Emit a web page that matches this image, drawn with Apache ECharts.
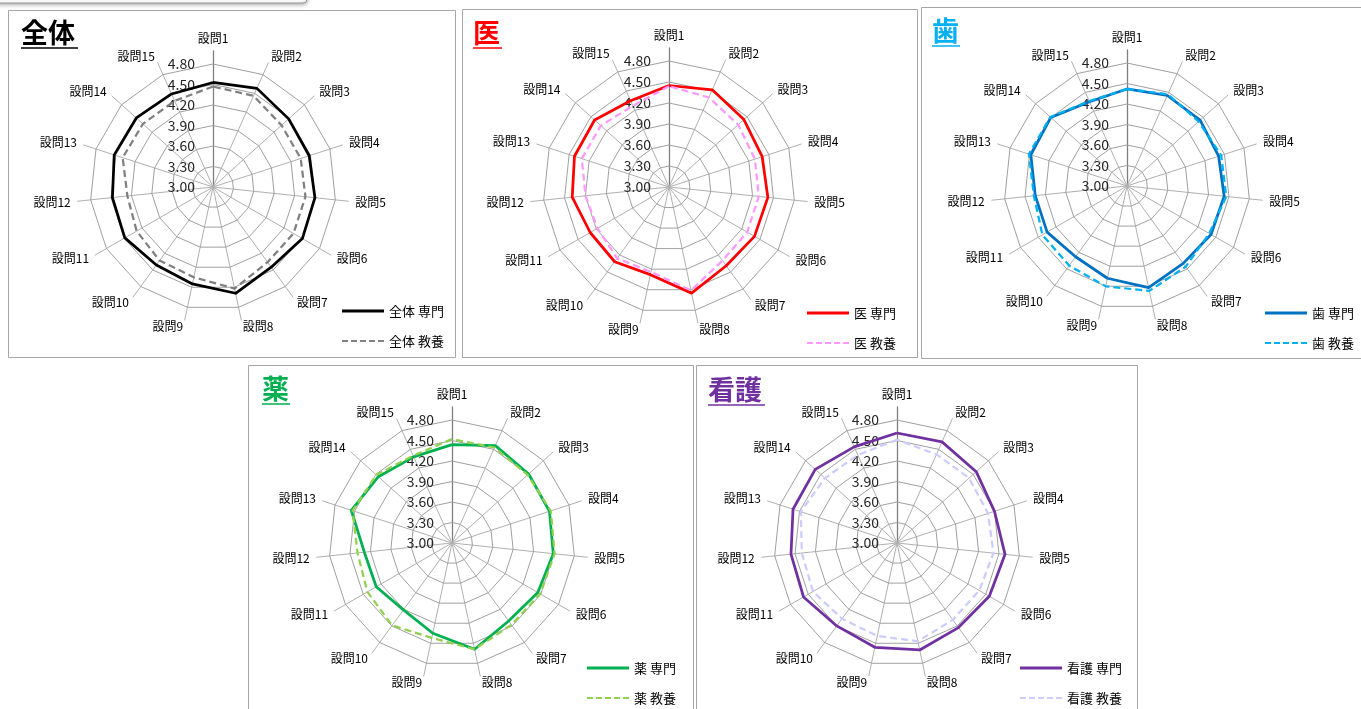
<!DOCTYPE html>
<html><head><meta charset="utf-8">
<script src="https://cdn.jsdelivr.net/npm/echarts@6/dist/echarts.min.js"></script>
<style>html,body{margin:0;padding:0;background:#fff;overflow:hidden}#c{width:1361px;height:709px}</style>
</head><body><div id="c"></div>
<script>
// ---------- DATA ----------
const questions = ['設問1','設問2','設問3','設問4','設問5','設問6','設問7','設問8','設問9','設問10','設問11','設問12','設問13','設問14','設問15'];
const axisMin = 3.0;
const axisMax = 4.8;
const axisSplits = 6; // 3.00, 3.30, ... 4.80

const zentaiSenmon = [4.53, 4.58, 4.49, 4.48, 4.50, 4.51, 4.45, 4.59, 4.45, 4.41, 4.49, 4.48, 4.52, 4.51, 4.49];
const zentaiKyoyo  = [4.47, 4.46, 4.35, 4.35, 4.36, 4.36, 4.36, 4.52, 4.35, 4.33, 4.29, 4.26, 4.39, 4.38, 4.38];
const iSenmon      = [4.45, 4.52, 4.44, 4.40, 4.42, 4.41, 4.39, 4.55, 4.28, 4.32, 4.30, 4.39, 4.42, 4.43, 4.35];
const iKyoyo       = [4.44, 4.40, 4.33, 4.29, 4.29, 4.29, 4.30, 4.51, 4.24, 4.26, 4.18, 4.20, 4.31, 4.31, 4.27];
const shiSenmon    = [4.42, 4.45, 4.44, 4.41, 4.43, 4.42, 4.40, 4.52, 4.38, 4.28, 4.35, 4.35, 4.48, 4.50, 4.35];
const shiKyoyo     = [4.42, 4.47, 4.41, 4.45, 4.46, 4.39, 4.46, 4.57, 4.50, 4.44, 4.43, 4.37, 4.51, 4.51, 4.36];
const yakuSenmon   = [4.44, 4.56, 4.51, 4.50, 4.49, 4.45, 4.41, 4.59, 4.35, 4.21, 4.28, 4.29, 4.55, 4.45, 4.38];
const yakuKyoyo    = [4.52, 4.53, 4.49, 4.52, 4.51, 4.49, 4.48, 4.59, 4.42, 4.49, 4.43, 4.39, 4.53, 4.49, 4.40];
const kangoSenmon  = [4.61, 4.62, 4.56, 4.50, 4.59, 4.56, 4.53, 4.60, 4.56, 4.50, 4.58, 4.56, 4.60, 4.61, 4.54];
const kangoKyoyo   = [4.51, 4.42, 4.42, 4.40, 4.42, 4.39, 4.39, 4.47, 4.39, 4.37, 4.42, 4.40, 4.48, 4.42, 4.41];

const groupNames = ['全体', '医', '歯', '薬', '看護'];
const seriesSuffix = ['専門', '教養'];
const groupValues = [
  [zentaiSenmon, zentaiKyoyo],
  [iSenmon, iKyoyo],
  [shiSenmon, shiKyoyo],
  [yakuSenmon, yakuKyoyo],
  [kangoSenmon, kangoKyoyo]
];

// ---------- LAYOUT / STYLE ----------
const FONT = '"Noto Sans CJK JP", "Noto Sans", sans-serif';
const panels = [
  {box:[8,10,447,347],   cx:213,  cy:187, r:123, title:[21,19],  tw:57, tcol:'#000000', colors:['#000000','#808080'], legend:[342,304]},
  {box:[462,9,455,348],  cx:669,  cy:187, r:126, title:[473,19], tw:29, tcol:'#ff0000', colors:['#ff0000','#ff99ff'], legend:[807,306]},
  {box:[921,7,445,351],  cx:1127, cy:186, r:123, title:[932,17], tw:28, tcol:'#00b0f0', colors:['#0070c0','#00b0f0'], legend:[1265,306]},
  {box:[248,365,445,350],cx:452,  cy:543, r:123, title:[262,375],tw:28, tcol:'#00b050', colors:['#00b050','#92d050'], legend:[587,661]},
  {box:[696,365,441,350],cx:897,  cy:543, r:123, title:[708,376],tw:57, tcol:'#7030a0', colors:['#7030a0','#ccccff'], legend:[1020,661]}
];

// ECharts radar runs counter-clockwise; reorder so 設問1..15 run clockwise
const order = [0].concat(questions.map((_, i) => i).slice(1).reverse());

const radars = [];
const spokeRadars = [];
const series = [];
const legends = [];
const graphics = [];

const solidIcon = 'path://M0,0h42v3h-42z';
const dashIcon = 'path://M0,0h6v2h-6zM9,0h6v2h-6zM18,0h6v2h-6zM27,0h6v2h-6zM36,0h6v2h-6z';

// top-left partial shape
graphics.push({type:'rect', shape:{x:-5, y:-30, width:312, height:33, r:4},
  style:{fill:'#fff', stroke:'#9a9a9a', lineWidth:1, shadowBlur:4, shadowColor:'rgba(0,0,0,0.35)', shadowOffsetY:1}, z:1});

panels.forEach((p, k) => {
  const ind = order.map(i => ({name: questions[i], min: axisMin, max: axisMax}));
  ind[0].axisLabel = {show: true};
  radars.push({
    center:[p.cx, p.cy], radius:p.r, startAngle:90, shape:'polygon', splitNumber:axisSplits,
    indicator: ind, nameGap: 20,
    axisName:{color:'#000', fontSize:12, fontFamily:FONT},
    splitLine:{lineStyle:{color:'#a0a0a0', width:1}},
    splitArea:{show:false},
    axisLine:{show:false}, axisTick:{show:false},
    axisLabel:{show:false, fontSize:14, color:'#262626', fontFamily:FONT, margin:18,
      formatter: v => (+v).toFixed(2)},
    z: 2
  });
  const sInd = order.map(() => ({name:'', min:0, max:1}));
  sInd[0].axisLine = {lineStyle:{color:'#7f7f7f', width:1.3}};
  spokeRadars.push({
    center:[p.cx, p.cy], radius:p.r + 13, startAngle:90, shape:'polygon', splitNumber:1,
    indicator: sInd, axisName:{show:false},
    splitLine:{show:false}, splitArea:{show:false}, axisTick:{show:false}, axisLabel:{show:false},
    axisLine:{lineStyle:{color:'#b0b0b0', width:1}}, z: 1
  });
  const names = seriesSuffix.map(s => groupNames[k] + ' ' + s);
  groupValues[k].forEach((vals, j) => {
    series.push({
      type:'radar', radarIndex:k, name:names[j], symbol:'none', silent:true, z: 3 + j,
      itemStyle:{color:p.colors[j]},
      lineStyle:{color:p.colors[j], width: j === 0 ? 2.75 : 2.25, type: j === 0 ? 'solid' : [7,4]},
      data:[{value: order.map(i => vals[i]), name: names[j]}]
    });
  });
  legends.push({
    orient:'vertical', left:p.legend[0], top:p.legend[1], height:50, itemWidth:42, itemHeight:3, itemGap:16,
    selectedMode:false, padding:0,
    textStyle:{fontSize:13, color:'#000', fontFamily:FONT, lineHeight:14},
    data:[
      {name:names[0], icon:solidIcon, itemStyle:{color:p.colors[0]}},
      {name:names[1], icon:dashIcon, itemStyle:{color:p.colors[1]}}
    ]
  });
  // panel box
  graphics.push({type:'rect', shape:{x:p.box[0]+0.5, y:p.box[1]+0.5, width:p.box[2], height:p.box[3]},
    style:{fill:'none', stroke:'#a6a6a6', lineWidth:1}, z:0});
  // title
  graphics.push({type:'text', x:p.title[0], y:p.title[1],
    style:{text:groupNames[k], font:'bold 27px ' + FONT, fill:p.tcol, textAlign:'left', textVerticalAlign:'top', verticalAlign:'top'}, z:5});
  graphics.push({type:'line', shape:{x1:p.title[0], y1:p.title[1]+29, x2:p.title[0]+p.tw, y2:p.title[1]+29},
    style:{stroke:p.tcol, lineWidth:1.5}, z:5});
});

const chart = echarts.init(document.getElementById('c'), null, {renderer:'canvas'});
chart.setOption({
  backgroundColor:'#ffffff',
  animation:false,
  textStyle:{fontFamily:FONT},
  radar: radars.concat(spokeRadars),
  legend: legends,
  series: series,
  graphic: graphics
});
</script></body></html>
